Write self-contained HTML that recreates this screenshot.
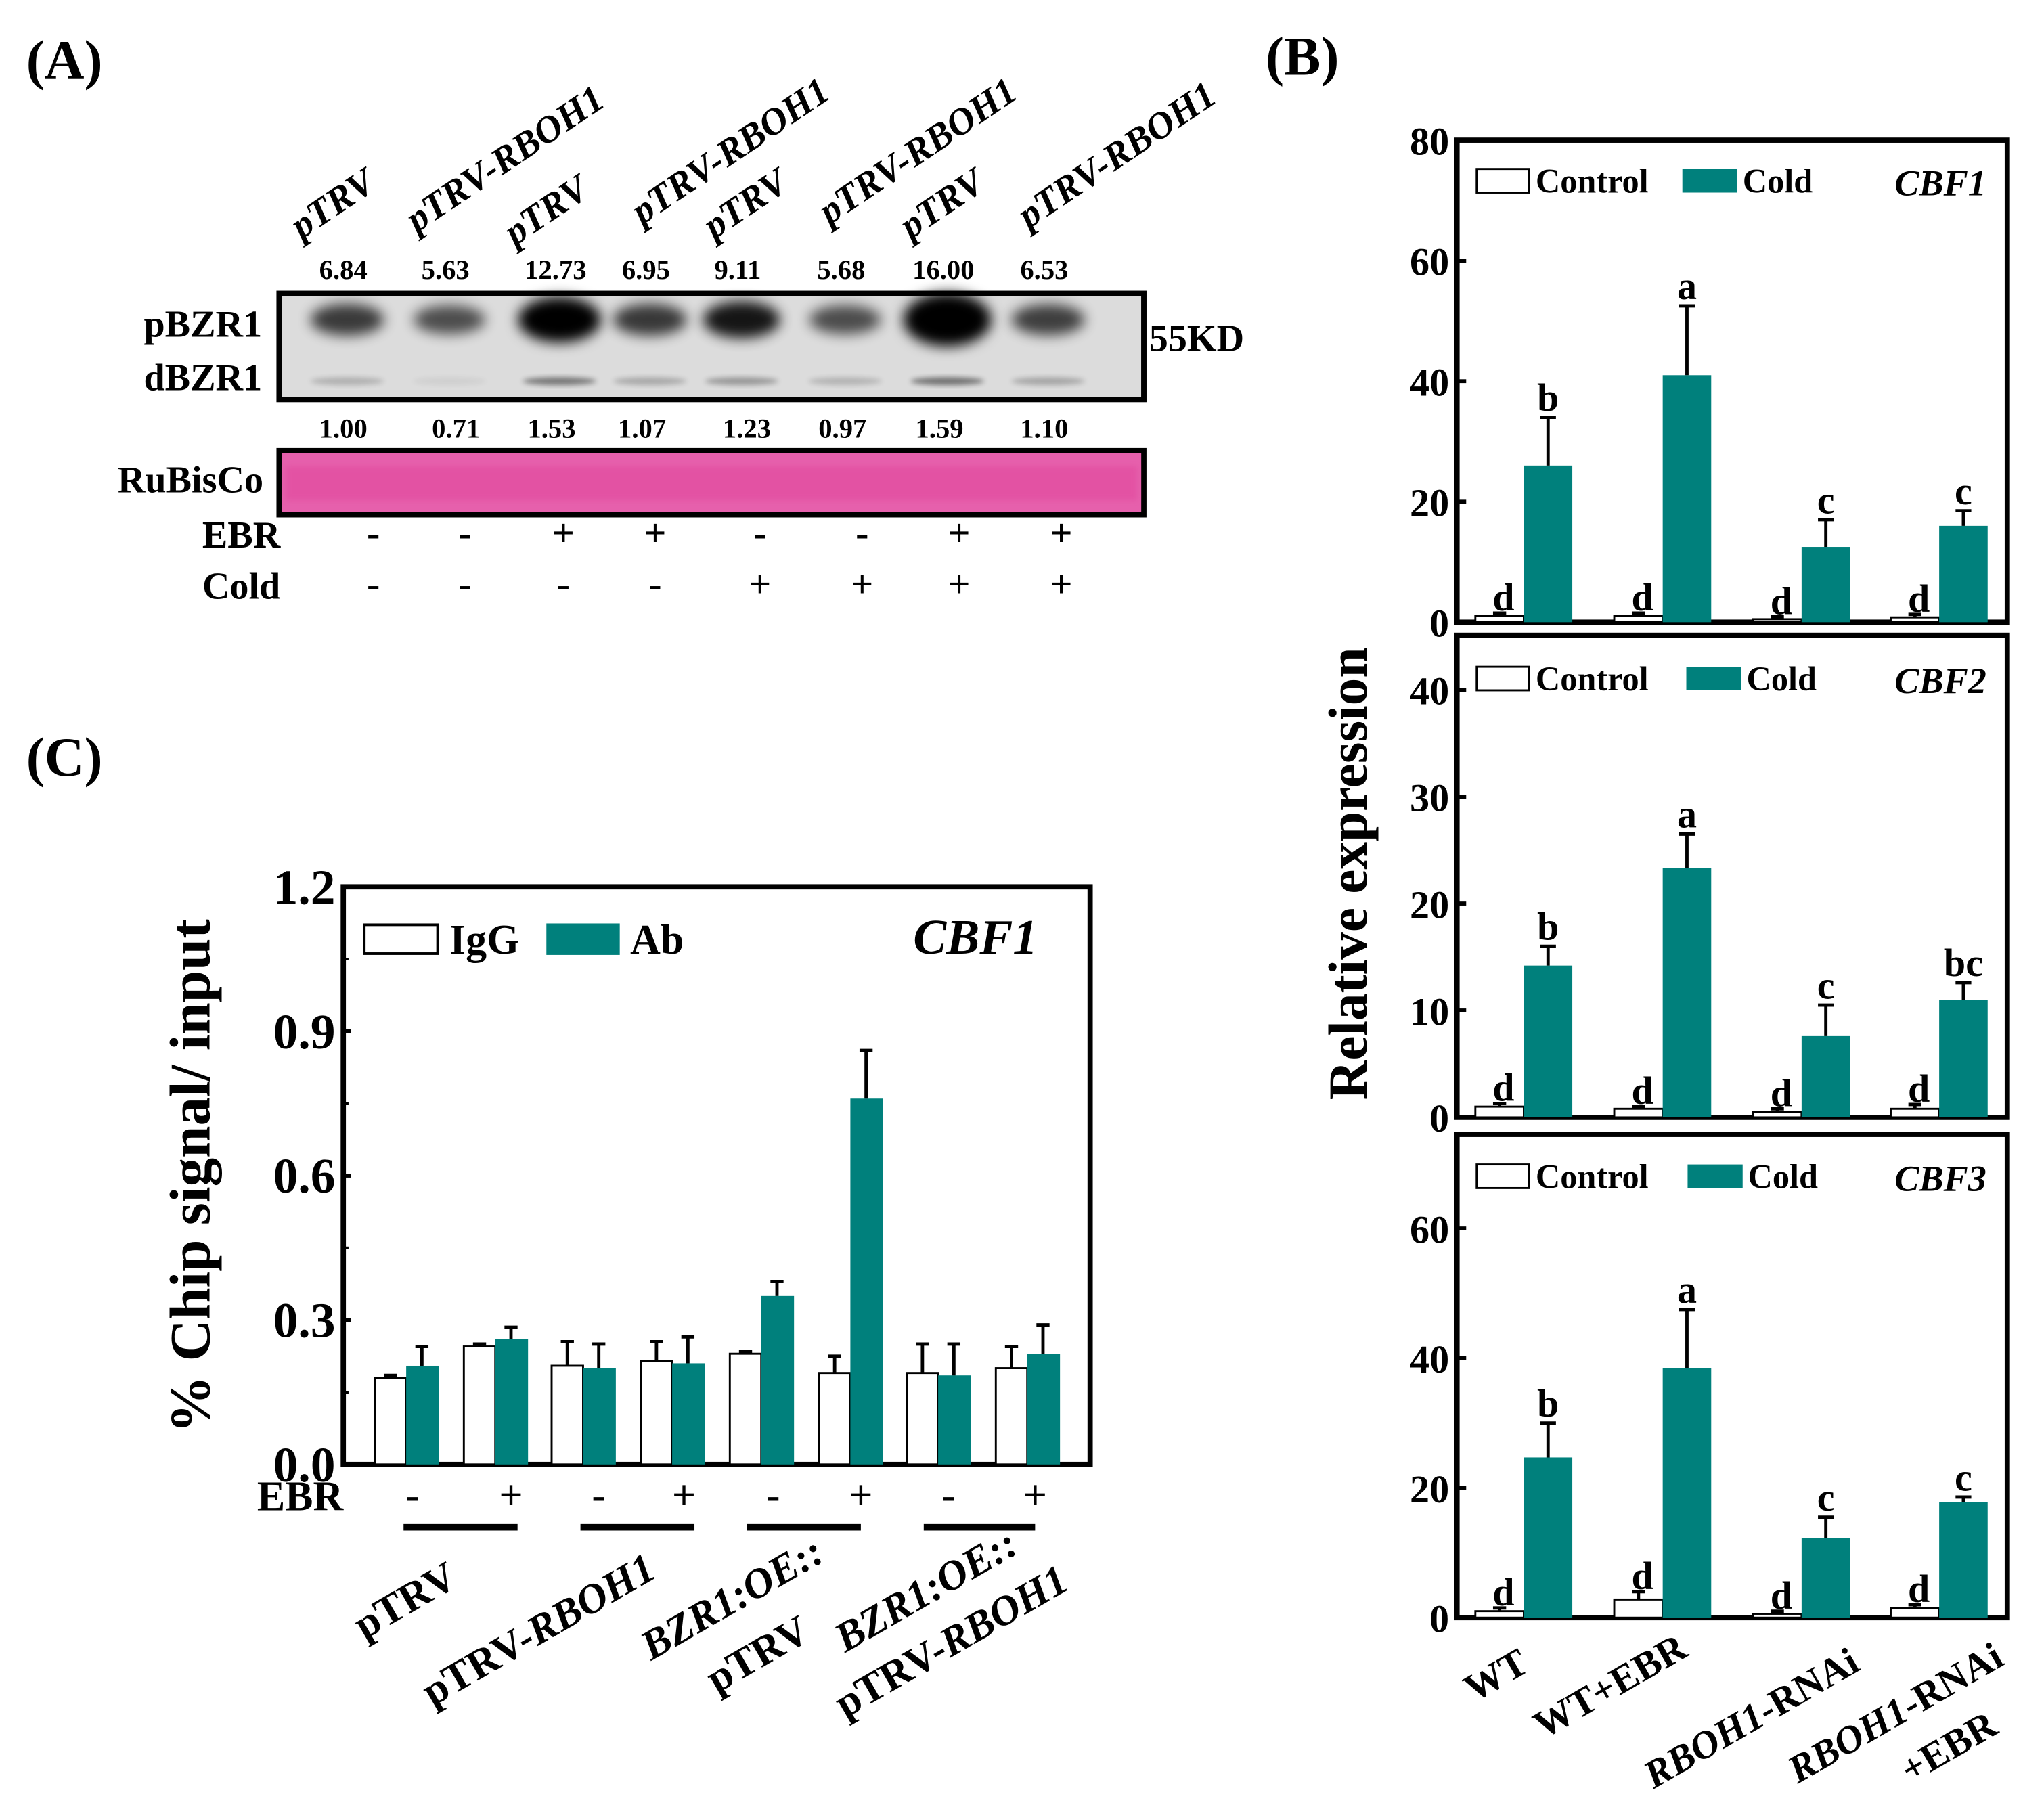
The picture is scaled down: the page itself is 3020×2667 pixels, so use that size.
<!DOCTYPE html>
<html><head><meta charset="utf-8">
<style>
html,body{margin:0;padding:0;background:#fff;}
svg{display:block;font-family:"Liberation Serif",serif;}
</style></head>
<body>
<svg id="fig" width="3020" height="2667" viewBox="0 0 1560 1378" preserveAspectRatio="none" xmlns="http://www.w3.org/2000/svg">
<defs>
<filter id="blur" x="-50%" y="-50%" width="200%" height="200%"><feGaussianBlur stdDeviation="5"/></filter>
<filter id="blur2" x="-50%" y="-50%" width="200%" height="200%"><feGaussianBlur stdDeviation="2"/></filter>
</defs>
<!-- Panel labels -->
<text x="20" y="60" font-size="42" font-weight="bold">(A)</text>
<text x="966" y="57" font-size="42" font-weight="bold">(B)</text>
<text x="20" y="592" font-size="42" font-weight="bold">(C)</text>
<g id="panelA"></g>
<g id="panelB"></g>
<g id="panelC"></g>
</svg>
<script>
// ---------- Panel A data ----------
const laneLabels = ["pTRV","pTRV-RBOH1","pTRV","pTRV-RBOH1","pTRV","pTRV-RBOH1","pTRV","pTRV-RBOH1"];
const pbzrValues = ["6.84","5.63","12.73","6.95","9.11","5.68","16.00","6.53"];
const dbzrValues = ["1.00","0.71","1.53","1.07","1.23","0.97","1.59","1.10"];
const ebrSigns = ["-","-","+","+","-","-","+","+"];
const coldSigns = ["-","-","-","-","+","+","+","+"];
// ---------- Panel B data ----------
const bGroups = ["WT","WT+EBR","RBOH1-RNAi","RBOH1-RNAi +EBR"];
const cbf1Control = [1.0,1.0,0.5,0.8];
const cbf1ControlErr = [1.5,1.5,0.9,1.3];
const cbf1Cold = [26,41,12.5,16];
const cbf1ColdErr = [34,52.5,17,18.5];
const cbf1Letters = ["d","b","d","a","d","c","d","c"];
const cbf2Control = [1.0,0.8,0.5,0.8];
const cbf2ControlErr = [1.3,1.0,0.8,1.2];
const cbf2Cold = [14.2,23.3,7.6,11];
const cbf2ColdErr = [16,26.5,10.5,12.6];
const cbf2Letters = ["d","b","d","a","d","c","d","bc"];
const cbf3Control = [1.0,2.8,0.6,1.5];
const cbf3ControlErr = [1.5,4.0,1.0,2.0];
const cbf3Cold = [24.7,38.5,12.3,17.8];
const cbf3ColdErr = [30,47.5,15.5,18.6];
const cbf3Letters = ["d","b","d","a","d","c","d","c"];
const cbf1Ticks = [0,20,40,60,80];
const cbf2Ticks = [0,10,20,30,40];
const cbf3Ticks = [0,20,40,60];
// ---------- Panel C data ----------
const cEbr = ["-","+","-","+","-","+","-","+"];
const cIgg = [0.18,0.245,0.205,0.215,0.23,0.19,0.19,0.20];
const cIggErr = [0.185,0.25,0.255,0.255,0.235,0.225,0.25,0.245];
const cAb = [0.205,0.26,0.20,0.21,0.35,0.76,0.185,0.23];
const cAbErr = [0.245,0.285,0.25,0.265,0.38,0.86,0.25,0.29];
const cTicks = ["0.0","0.3","0.6","0.9","1.2"];

const NS="http://www.w3.org/2000/svg";
const TEAL="#00807c";
function mk(parent,tag,attrs,text){
  const e=document.createElementNS(NS,tag);
  for(const k in attrs) e.setAttribute(k,attrs[k]);
  if(text!==undefined) e.textContent=text;
  parent.appendChild(e); return e;
}

// ================= PANEL A =================
(function(){
  const g=document.getElementById('panelA');
  const laneX=[262,340,424,493,563,642,720,797];
  const labelStart=[[230,183],[318,178],[393,188],[490,172],[545,183],[633,172],[695,183],[785,175]];
  laneLabels.forEach((t,i)=>{
    const el=mk(g,'text',{x:labelStart[i][0],y:labelStart[i][1],'font-size':29,'font-style':'italic','font-weight':'bold',transform:`rotate(-34 ${labelStart[i][0]} ${labelStart[i][1]})`},t);
    
    
  });
  pbzrValues.forEach((t,i)=>{
    const el=mk(g,'text',{x:laneX[i],y:213,'font-size':21,'font-weight':'bold','text-anchor':'middle'},t);
    
    
  });
  // blot
  const blot=mk(g,'rect',{x:213,y:224,width:660,height:81,fill:'#dcdcdc',stroke:'#000','stroke-width':4});
  
  
  pbzrValues.forEach((v,i)=>{
    const n=parseFloat(v);
    const op=Math.min(1,0.25+n/14);
    const ry=6+n*0.9;
    const b=mk(g,'ellipse',{cx:laneX[i]+3,cy:244,rx:24+n*0.6,ry:ry,fill:'#000',opacity:op,filter:'url(#blur)'});
    
    
    const d=mk(g,'ellipse',{cx:laneX[i]+3,cy:291,rx:28,ry:3,fill:'#000',opacity:Math.max(0.05,(parseFloat(dbzrValues[i])-0.6)*0.5),filter:'url(#blur2)'});
    
    
  });
  mk(g,'rect',{x:213,y:224,width:660,height:81,fill:'none',stroke:'#000','stroke-width':4});
  let t=mk(g,'text',{x:200,y:257,'font-size':29,'font-weight':'bold','text-anchor':'end'},'pBZR1');
   
  t=mk(g,'text',{x:200,y:298,'font-size':29,'font-weight':'bold','text-anchor':'end'},'dBZR1');
   
  t=mk(g,'text',{x:877,y:268,'font-size':29,'font-weight':'bold'},'55KD');
   
  dbzrValues.forEach((v,i)=>{
    const x=[262,348,421,490,570,643,717,797][i];
    const el=mk(g,'text',{x:x,y:334,'font-size':21,'font-weight':'bold','text-anchor':'middle'},v);
    
    
  });
  const rb=mk(g,'rect',{x:213,y:344,width:660,height:49,fill:'#e660ac',stroke:'#000','stroke-width':4});
  
  
  mk(g,'rect',{x:218,y:356,width:650,height:26,fill:'#e24ea0',opacity:0.7,filter:'url(#blur2)'});
  t=mk(g,'text',{x:201,y:376,'font-size':29,'font-weight':'bold','text-anchor':'end'},'RuBisCo');
   
  t=mk(g,'text',{x:214,y:418,'font-size':29,'font-weight':'bold','text-anchor':'end'},'EBR');
   
  t=mk(g,'text',{x:214,y:457,'font-size':29,'font-weight':'bold','text-anchor':'end'},'Cold');
   
  const sx=[285,355,430,500,580,658,732,810];
  ebrSigns.forEach((s,i)=>{
    const el=mk(g,'text',{x:sx[i],y:417,'font-size':30,'font-weight':'bold','text-anchor':'middle'},s);
     
  });
  coldSigns.forEach((s,i)=>{
    const el=mk(g,'text',{x:sx[i],y:456,'font-size':30,'font-weight':'bold','text-anchor':'middle'},s);
     
  });
})();

// ================= PANEL B =================
(function(){
  const g=document.getElementById('panelB');
  const X0=1112,X1=1532;
  const ctrlX=[1126,1232,1338,1443], bw=37;
  function subplot(top,bottom,ymax,ticks,ctrl,ctrlErr,cold,coldErr,letters,gene,legY,legColdX,name){
    const sg=mk(g,'g',{});
    
    
    const y=v=>bottom-(v/ymax)*(bottom-top);
    mk(sg,'rect',{x:X0,y:top,width:X1-X0,height:bottom-top,fill:'none',stroke:'#000','stroke-width':4});
    ticks.forEach(tv=>{
      const yy=y(tv);
      mk(sg,'line',{x1:X0,x2:X0+7,y1:yy,y2:yy,stroke:'#000','stroke-width':3});
      const el=mk(sg,'text',{x:X0-6,y:yy+11,'font-size':30,'font-weight':'bold','text-anchor':'end'},String(tv));
       
    });
    ctrl.forEach((v,i)=>{
      const cx=ctrlX[i];
      // control
      const r=mk(sg,'rect',{x:cx,y:y(v),width:bw,height:bottom-y(v),fill:'#fff',stroke:'#000','stroke-width':1.5});
       
      mk(sg,'line',{x1:cx+bw/2,x2:cx+bw/2,y1:y(v),y2:y(ctrlErr[i]),stroke:'#000','stroke-width':2.5});
      mk(sg,'line',{x1:cx+bw/2-5,x2:cx+bw/2+5,y1:y(ctrlErr[i]),y2:y(ctrlErr[i]),stroke:'#000','stroke-width':2.5});
      let l=mk(sg,'text',{x:cx+bw/2+3,y:y(ctrlErr[i])-2,'font-size':30,'font-weight':'bold','text-anchor':'middle'},letters[2*i]);
       
      // cold
      const ox=cx+bw, cv=cold[i];
      const c=mk(sg,'rect',{x:ox,y:y(cv),width:bw,height:bottom-y(cv),fill:TEAL});
       
      mk(sg,'line',{x1:ox+bw/2,x2:ox+bw/2,y1:y(cv),y2:y(coldErr[i]),stroke:'#000','stroke-width':2.5});
      mk(sg,'line',{x1:ox+bw/2-6,x2:ox+bw/2+6,y1:y(coldErr[i]),y2:y(coldErr[i]),stroke:'#000','stroke-width':2.5});
      l=mk(sg,'text',{x:ox+bw/2,y:y(coldErr[i])-5,'font-size':30,'font-weight':'bold','text-anchor':'middle'},letters[2*i+1]);
       
    });
    // legend
    const lg=mk(sg,'g',{});
     
    mk(lg,'rect',{x:1127,y:legY-9,width:40,height:18,fill:'#fff',stroke:'#000','stroke-width':1.5});
    let t=mk(lg,'text',{x:1172,y:legY+9,'font-size':26,'font-weight':'bold'},'Control');
     
    mk(lg,'rect',{x:legColdX,y:legY-9,width:42,height:18,fill:TEAL});
    t=mk(lg,'text',{x:legColdX+46,y:legY+9,'font-size':26,'font-weight':'bold'},'Cold');
     
    t=mk(sg,'text',{x:1516,y:legY+11,'font-size':28,'font-weight':'bold','font-style':'italic','text-anchor':'end'},gene);
     
  }
  subplot(107,475,80,cbf1Ticks,cbf1Control,cbf1ControlErr,cbf1Cold,cbf1ColdErr,cbf1Letters,'CBF1',138,1284,'cbf1-subplot');
  subplot(485,853,45.1,cbf2Ticks,cbf2Control,cbf2ControlErr,cbf2Cold,cbf2ColdErr,cbf2Letters,'CBF2',518,1287,'cbf2-subplot');
  subplot(866,1235,74.5,cbf3Ticks,cbf3Control,cbf3ControlErr,cbf3Cold,cbf3ColdErr,cbf3Letters,'CBF3',898,1288,'cbf3-subplot');
  let t=mk(g,'text',{x:1043,y:667,'font-size':42,'font-weight':'bold','text-anchor':'middle',transform:'rotate(-90 1043 667)'},'Relative expression');
   
  const lab=[[1125,1300,'WT',false],[1178,1328,'WT+EBR',false]];
  lab.forEach(a=>{
    const e=mk(g,'text',{x:a[0],y:a[1],'font-size':30,'font-weight':'bold',transform:`rotate(-30 ${a[0]} ${a[1]})`},a[2]);
     
  });
  [[1262,1366],[1372,1362]].forEach(p=>{
    const e=mk(g,'text',{x:p[0],y:p[1],'font-size':30,'font-weight':'bold',transform:`rotate(-30 ${p[0]} ${p[1]})`});
     
    mk(e,'tspan',{'font-style':'italic'},'RBOH1');
    mk(e,'tspan',{},'-RNAi');
  });
  t=mk(g,'text',{x:1458,y:1362,'font-size':30,'font-weight':'bold',transform:'rotate(-30 1458 1362)'},'+EBR');
   
})();

// ================= PANEL C =================
(function(){
  const g=document.getElementById('panelC');
  const X0=262,X1=832,top=677,bottom=1118,ymax=1.2;
  const y=v=>bottom-(v/ymax)*(bottom-top);
  const iggX=[286,354,421,489,557,625,692,760], bw=24;
  mk(g,'rect',{x:X0,y:top,width:X1-X0,height:bottom-top,fill:'none',stroke:'#000','stroke-width':4});
  cTicks.forEach(tv=>{
    const yy=y(parseFloat(tv));
    mk(g,'line',{x1:X0,x2:X0+6,y1:yy,y2:yy,stroke:'#000','stroke-width':3});
    const el=mk(g,'text',{x:X0-6,y:yy+13,'font-size':38,'font-weight':'bold','text-anchor':'end'},tv);
     
  });
  [0.15,0.45,0.75,1.05].forEach(tv=>{mk(g,'line',{x1:X0,x2:X0+4,y1:y(tv),y2:y(tv),stroke:'#000','stroke-width':2});});
  cIgg.forEach((v,i)=>{
    const x=iggX[i];
    const r=mk(g,'rect',{x:x,y:y(v),width:bw,height:bottom-y(v),fill:'#fff',stroke:'#000','stroke-width':1.5});
     
    mk(g,'line',{x1:x+bw/2,x2:x+bw/2,y1:y(v),y2:y(cIggErr[i]),stroke:'#000','stroke-width':2.5});
    mk(g,'line',{x1:x+bw/2-5,x2:x+bw/2+5,y1:y(cIggErr[i]),y2:y(cIggErr[i]),stroke:'#000','stroke-width':2.5});
    const ax=x+bw, av=cAb[i];
    const c=mk(g,'rect',{x:ax,y:y(av),width:bw+1,height:bottom-y(av),fill:TEAL});
     
    mk(g,'line',{x1:ax+bw/2,x2:ax+bw/2,y1:y(av),y2:y(cAbErr[i]),stroke:'#000','stroke-width':2.5});
    mk(g,'line',{x1:ax+bw/2-5,x2:ax+bw/2+5,y1:y(cAbErr[i]),y2:y(cAbErr[i]),stroke:'#000','stroke-width':2.5});
  });
  // legend
  const lg=mk(g,'g',{});
   
  mk(lg,'rect',{x:278,y:706,width:56,height:22,fill:'#fff',stroke:'#000','stroke-width':2});
  let t=mk(lg,'text',{x:343,y:728,'font-size':32,'font-weight':'bold'},'IgG');
   
  mk(lg,'rect',{x:417,y:705,width:56,height:24,fill:TEAL});
  t=mk(lg,'text',{x:481,y:728,'font-size':32,'font-weight':'bold'},'Ab');
   
  t=mk(g,'text',{x:792,y:728,'font-size':38,'font-weight':'bold','font-style':'italic','text-anchor':'end'},'CBF1');
   
  t=mk(g,'text',{x:160,y:898,'font-size':44,'font-weight':'bold','text-anchor':'middle',transform:'rotate(-90 160 898)'},'% Chip signal/ input');
   
  t=mk(g,'text',{x:262,y:1153,'font-size':32,'font-weight':'bold','text-anchor':'end'},'EBR');
   
  const sx=[315,390,457,522,590,657,724,790];
  cEbr.forEach((s,i)=>{
    const el=mk(g,'text',{x:sx[i],y:1152,'font-size':32,'font-weight':'bold','text-anchor':'middle'},s);
     
  });
  [[308,395],[443,530],[570,657],[705,790]].forEach(p=>{
    const l=mk(g,'line',{x1:p[0],x2:p[1],y1:1166,y2:1166,stroke:'#000','stroke-width':5});
     
  });
  function lbl(x,yy,parts){
    const e=mk(g,'text',{x:x,y:yy,'font-size':32,'font-weight':'bold',transform:`rotate(-30 ${x} ${yy})`});
     
    parts.forEach(p=>mk(e,'tspan',p[1]?{'font-style':'italic'}:{},p[0]));
  }
  lbl(278,1252,[['pTRV',false]]);
  lbl(330,1303,[['pTRV-',false],['RBOH1',true]]);
  lbl(497,1268,[['BZR1',true],[':OE::',true]]);
  lbl(547,1293,[['pTRV',false]]);
  lbl(645,1262,[['BZR1',true],[':OE::',true]]);
  lbl(645,1312,[['pTRV-',false],['RBOH1',true]]);
})();
</script>
</body></html>
